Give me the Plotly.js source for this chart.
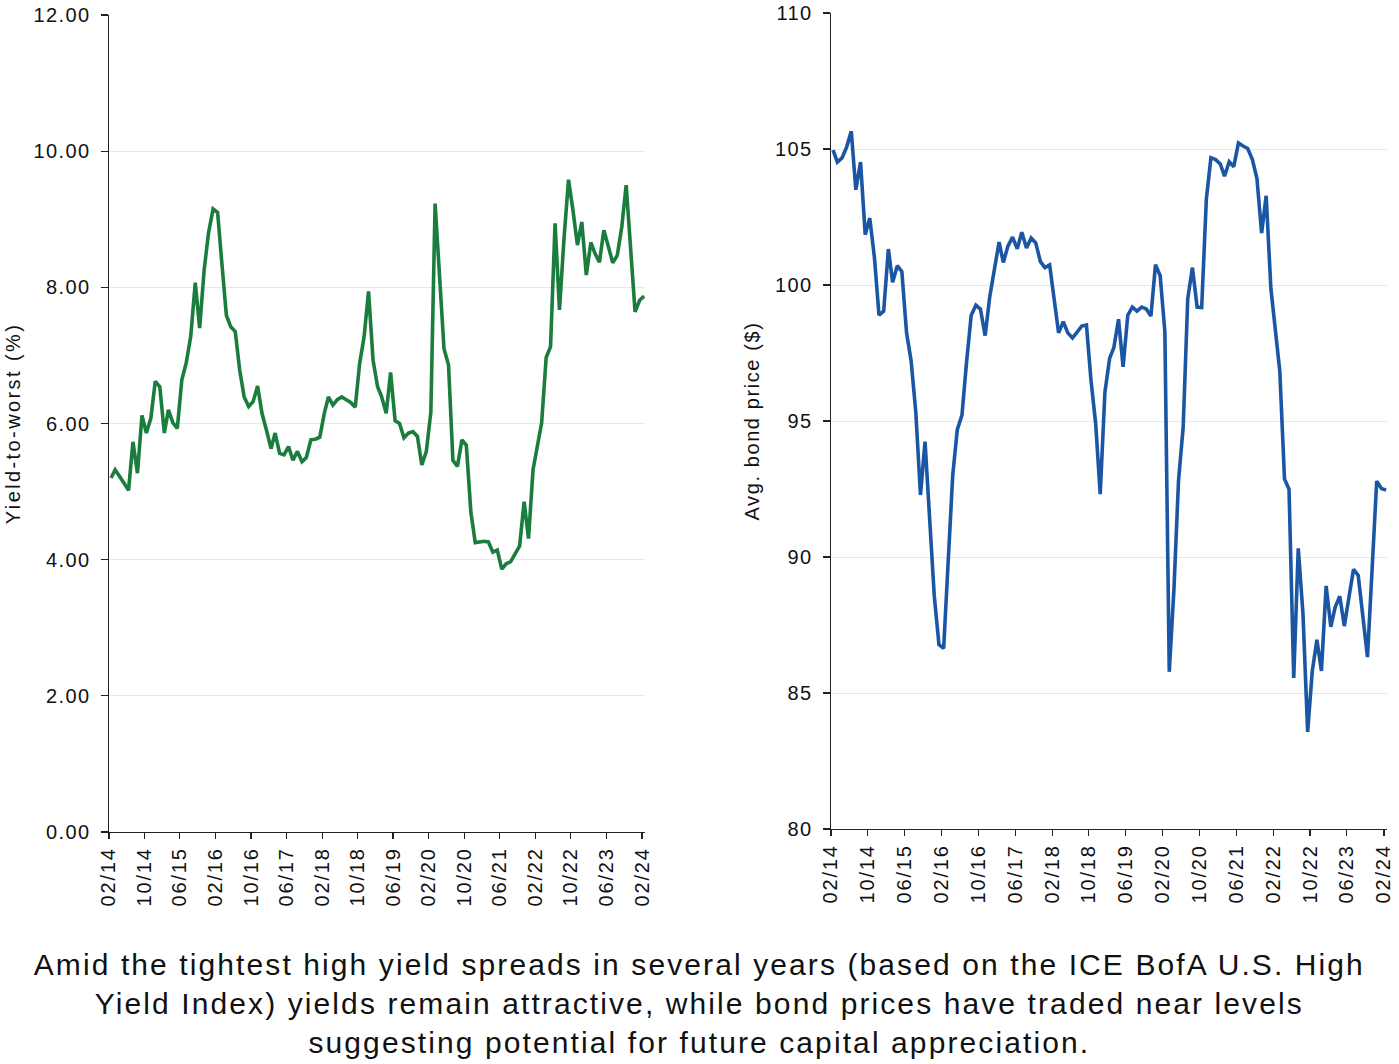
<!DOCTYPE html>
<html>
<head>
<meta charset="utf-8">
<script src="https://cdn.plot.ly/plotly-3.0.1.min.js"></script>
<style>
  html, body { margin: 0; padding: 0; background: #ffffff; }
  #chart { width: 1399px; height: 1064px; }
  /* the reference typography is slightly tracked out */
  #chart .xtick text, #chart .x2tick text { letter-spacing: 0.09em; }
  #chart .ytick text, #chart .y2tick text { letter-spacing: 0.07em; }
  #chart .ytitle { letter-spacing: 0.12em; }
  #chart .y2title { letter-spacing: 0.08em; }
  #chart .annotation-text { letter-spacing: 0.07em; }
</style>
</head>
<body>
<div id="chart"></div>
<script>
// Monthly observations, 02/2014 through 02/2024 (121 months)
const startYear = 2014;
const startMonth = 2;
const monthCount = 121;

// Yield-to-worst (%)
const yieldToWorst = [
  5.20, 5.32, 5.22, 5.12, 5.02, 5.73, 5.27, 6.12, 5.86, 6.08,
  6.62, 6.54, 5.86, 6.20, 6.01, 5.93, 6.64, 6.89, 7.28, 8.07,
  7.40, 8.26, 8.80, 9.15, 9.10, 8.36, 7.59, 7.42, 7.35, 6.79,
  6.39, 6.25, 6.32, 6.55, 6.15, 5.90, 5.63, 5.86, 5.56, 5.54,
  5.66, 5.46, 5.59, 5.44, 5.50, 5.76, 5.77, 5.80, 6.15, 6.39,
  6.27, 6.35, 6.39, 6.35, 6.31, 6.24, 6.88, 7.28, 7.94, 6.93,
  6.54, 6.39, 6.15, 6.75, 6.04, 6.00, 5.79, 5.86, 5.88, 5.81,
  5.39, 5.59, 6.17, 9.23, 8.16, 7.10, 6.86, 5.46, 5.37, 5.76,
  5.68, 4.70, 4.25, 4.26, 4.27, 4.26, 4.11, 4.14, 3.86, 3.94,
  3.97, 4.09, 4.20, 4.85, 4.31, 5.32, 5.66, 6.01, 6.97, 7.13,
  8.94, 7.67, 8.71, 9.58, 9.14, 8.62, 8.96, 8.18, 8.66, 8.50,
  8.37, 8.84, 8.60, 8.36, 8.47, 8.89, 9.50, 8.55, 7.64, 7.81,
  7.87
];

// Average bond price ($)
const avgBondPrice = [
  104.96, 104.52, 104.67, 105.07, 105.65, 103.50, 104.52, 101.85, 102.46, 101.00,
  98.89, 99.04, 101.32, 100.10, 100.71, 100.49, 98.24, 97.22, 95.33, 92.28,
  94.24, 91.41, 88.57, 86.78, 86.64, 89.74, 93.01, 94.68, 95.22, 97.15,
  98.89, 99.26, 99.11, 98.14, 99.55, 100.57, 101.58, 100.83, 101.44, 101.76,
  101.33, 101.94, 101.36, 101.73, 101.55, 100.86, 100.64, 100.74, 99.47, 98.24,
  98.65, 98.24, 98.05, 98.27, 98.49, 98.53, 96.50, 94.90, 92.31, 96.06,
  97.30, 97.70, 98.74, 96.99, 98.89, 99.19, 99.04, 99.19, 99.12, 98.86,
  100.75, 100.34, 98.28, 85.78, 88.83, 92.79, 94.78, 99.50, 100.64, 99.19,
  99.17, 103.16, 104.68, 104.61, 104.45, 104.00, 104.53, 104.35, 105.22, 105.11,
  105.02, 104.61, 103.92, 101.91, 103.28, 99.88, 98.36, 96.83, 92.87, 92.49,
  85.55, 90.32, 87.92, 83.57, 85.78, 86.96, 85.81, 88.94, 87.43, 88.14,
  88.56, 87.46, 88.53, 89.55, 89.32, 87.84, 86.32, 89.59, 92.79, 92.52,
  92.46
];

// X-axis tick labels (every 8 months)
const tickDates = [
  '2014-02-01', '2014-10-01', '2015-06-01', '2016-02-01', '2016-10-01', '2017-06-01',
  '2018-02-01', '2018-10-01', '2019-06-01', '2020-02-01', '2020-10-01', '2021-06-01',
  '2022-02-01', '2022-10-01', '2023-06-01', '2024-02-01'
];
const tickLabels = [
  '02/14', '10/14', '06/15', '02/16', '10/16', '06/17', '02/18', '10/18',
  '06/19', '02/20', '10/20', '06/21', '02/22', '10/22', '06/23', '02/24'
];

const yieldTicks = [0, 2, 4, 6, 8, 10, 12];
const yieldTickText = ['0.00', '2.00', '4.00', '6.00', '8.00', '10.00', '12.00'];
const priceTicks = [80, 85, 90, 95, 100, 105, 110];

const captionText = 'Amid the tightest high yield spreads in several years (based on the ICE BofA U.S. High<br>' +
  'Yield Index) yields remain attractive, while bond prices have traded near levels<br>' +
  'suggesting potential for future capital appreciation.';

// Build monthly dates (mid-month observation)
const dates = [];
for (let i = 0; i < monthCount; i++) {
  const total = (startMonth - 1) + i;
  const y = startYear + Math.floor(total / 12);
  const m = (total % 12) + 1;
  dates.push(y + '-' + String(m).padStart(2, '0') + '-15');
}

const FONT = '"Liberation Sans", Arial, Helvetica, sans-serif';
const W = 1399, H = 1064;

const traces = [
  {
    x: dates, y: yieldToWorst, type: 'scatter', mode: 'lines',
    line: { color: '#1a7d3e', width: 3.6, shape: 'linear' },
    xaxis: 'x', yaxis: 'y', hoverinfo: 'x+y', showlegend: false
  },
  {
    x: dates, y: avgBondPrice, type: 'scatter', mode: 'lines',
    line: { color: '#1b56a4', width: 3.6, shape: 'linear' },
    xaxis: 'x2', yaxis: 'y2', hoverinfo: 'x+y', showlegend: false
  }
];

const xCommon = {
  type: 'date',
  tickmode: 'array',
  tickvals: tickDates,
  ticktext: tickLabels,
  tickangle: -90,
  ticks: 'outside',
  ticklen: 6,
  tickwidth: 1.2,
  tickcolor: '#222',
  showline: true,
  linecolor: '#222',
  linewidth: 1.4,
  showgrid: false,
  zeroline: false,
  tickfont: { family: FONT, size: 20, color: '#111' },
  fixedrange: true
};

const yCommon = {
  ticks: 'outside',
  ticklen: 7,
  tickwidth: 1.2,
  tickcolor: '#222',
  showline: true,
  linecolor: '#222',
  linewidth: 1.4,
  showgrid: true,
  gridcolor: '#e8e8e8',
  gridwidth: 1,
  zeroline: false,
  tickfont: { family: FONT, size: 20, color: '#111' },
  ticklabelstandoff: 6,
  fixedrange: true
};

const layout = {
  width: W, height: H,
  margin: { l: 0, r: 0, t: 0, b: 0, pad: 0 },
  paper_bgcolor: '#ffffff',
  plot_bgcolor: '#ffffff',
  showlegend: false,
  xaxis: Object.assign({}, xCommon, {
    domain: [109 / W, 645 / W],
    range: ['2014-02-01', '2024-02-21'],
    anchor: 'y'
  }),
  yaxis: Object.assign({}, yCommon, {
    domain: [1 - 832 / H, 1 - 15 / H],
    range: [0, 12],
    tickmode: 'array',
    tickvals: yieldTicks,
    ticktext: yieldTickText,
    anchor: 'x',
    title: { text: 'Yield-to-worst (%)', font: { family: FONT, size: 20, color: '#111' }, standoff: 14 }
  }),
  xaxis2: Object.assign({}, xCommon, {
    domain: [831 / W, 1387 / W],
    range: ['2014-02-01', '2024-02-21'],
    anchor: 'y2'
  }),
  yaxis2: Object.assign({}, yCommon, {
    domain: [1 - 829 / H, 1 - 13 / H],
    range: [80, 110],
    tickmode: 'array',
    tickvals: priceTicks,
    anchor: 'x2',
    title: { text: 'Avg. bond price ($)', font: { family: FONT, size: 20, color: '#111' }, standoff: 14 }
  }),
  annotations: [
    {
      text: captionText,
      xref: 'paper', yref: 'paper',
      x: 0.5, y: 1 - 1003 / H,
      xanchor: 'center', yanchor: 'middle',
      showarrow: false,
      align: 'center',
      font: { family: FONT, size: 30, color: '#111' }
    }
  ]
};

Plotly.newPlot('chart', traces, layout, { displayModeBar: false, staticPlot: true });
</script>
</body>
</html>
